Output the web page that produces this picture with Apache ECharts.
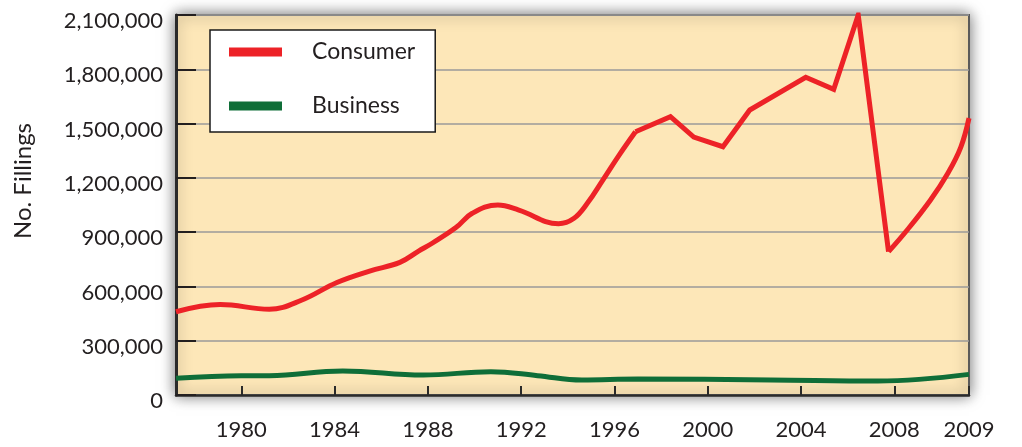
<!DOCTYPE html>
<html>
<head>
    <meta charset="utf-8">
    <title>No. Fillings</title>
    <script src="https://cdn.jsdelivr.net/npm/echarts@6.0.0/dist/echarts.min.js"></script>
    <style>
        html, body { margin: 0; padding: 0; background: #fff; }
    </style>
</head>
<body>
<div id="main" style="width: 1022px;height:447px;"></div>
<script type="text/javascript">
    // axis range as drawn (left edge .. right edge, right edge is labelled 2009)
    var xMin = 1977.2;
    var xMax = 2011.2;
    var tickPositions = [1980, 1984, 1988, 1992, 1996, 2000, 2004, 2008, 2011.2];
    var tickLabels = ['1980', '1984', '1988', '1992', '1996', '2000', '2004', '2008', '2009'];

    // consumer filings: [year position, filings]
    var consumerEarly = [
        [1977.2, 460000], [1979.1, 500000], [1981.2, 474000], [1982.6, 525000],
        [1984.1, 622000], [1985.5, 685000], [1986.8, 733000], [1987.6, 795000],
        [1988.2, 840000], [1989.2, 925000], [1989.9, 1004000], [1991.0, 1050000],
        [1991.9, 1022000], [1993.6, 947000], [1994.25, 975000], [1994.85, 1062000],
        [1995.5, 1188000], [1996.2, 1326000], [1996.9, 1455000]
    ];
    var consumerMid = [
        [1996.9, 1455000], [1998.4, 1538000], [1999.4, 1425000], [2000.65, 1372000],
        [2001.8, 1575000], [2004.2, 1756000], [2005.4, 1689000], [2006.45, 2100000],
        [2007.75, 792000]
    ];
    var consumerLate = [
        [2007.75, 792000], [2008.55, 912000], [2009.55, 1078000], [2010.3, 1227000],
        [2010.85, 1370000], [2011.2, 1530000]
    ];

    // business filings
    var business = [
        [1977.2, 92000], [1980.0, 107000], [1981.2, 107000], [1984.35, 133000],
        [1987.8, 110000], [1990.7, 129000], [1992.7, 107000], [1994.6, 83000],
        [1997.0, 88000], [2002.7, 83000], [2007.3, 77000], [2011.2, 114000]
    ];

    var myChart = echarts.init(document.getElementById('main'));
    var textColor = '#231f20';
    var font = 'Lato';

    var option = {
        animation: false,
        grid: {
            left: 176,
            right: 53,
            top: 15,
            bottom: 52,
            show: true,
            backgroundColor: '#fde7b8',
            borderColor: '#5a5a5a',
            borderWidth: 2,
            shadowBlur: 14,
            shadowColor: 'rgba(0,0,0,0.55)'
        },
        legend: {
            orient: 'vertical',
            left: 210,
            top: 30,
            data: ['Consumer', 'Business'],
            icon: 'rect',
            itemWidth: 53,
            itemHeight: 9,
            itemGap: 28,
            backgroundColor: '#fff',
            borderColor: '#1a1a1a',
            borderWidth: 1.5,
            borderRadius: 0,
            padding: [9, 20, 13, 19],
            textStyle: {
                fontFamily: font,
                fontSize: 23,
                lineHeight: 26,
                color: textColor,
                padding: [0, 0, 0, 25]
            }
        },
        xAxis: {
            type: 'value',
            min: xMin,
            max: xMax,
            splitLine: { show: false },
            axisLine: { lineStyle: { color: '#2a2a2a', width: 2.5 } },
            axisTick: {
                inside: true,
                length: 9,
                customValues: tickPositions,
                lineStyle: { color: '#2a2a2a', width: 2 }
            },
            axisLabel: {
                customValues: tickPositions,
                margin: 24,
                fontFamily: font,
                fontSize: 22,
                color: textColor,
                formatter: function (v) {
                    var i = tickPositions.indexOf(v);
                    return i >= 0 ? tickLabels[i] : '';
                }
            }
        },
        yAxis: {
            type: 'value',
            min: 0,
            max: 2100000,
            interval: 300000,
            name: 'No. Fillings',
            nameLocation: 'middle',
            nameGap: 141,
            nameTextStyle: {
                fontFamily: font,
                fontSize: 24,
                color: textColor,
                padding: [0, 0, 0, 48]
            },
            axisLine: { show: true, lineStyle: { color: '#2a2a2a', width: 3 } },
            axisTick: {
                show: true,
                inside: true,
                length: 20,
                lineStyle: { color: textColor, width: 2 }
            },
            splitLine: { lineStyle: { color: '#9a9a9a', width: 1.5 } },
            axisLabel: {
                margin: 13,
                fontFamily: font,
                fontSize: 22,
                color: textColor,
                verticalAlign: 'top',
                lineHeight: 12,
                formatter: function (v) { return v.toLocaleString('en-US'); }
            }
        },
        series: [
            {
                name: 'Consumer', type: 'line', data: consumerEarly, smooth: 0.4,
                showSymbol: false, itemStyle: { color: '#ed2227' },
                lineStyle: { color: '#ed2227', width: 5 }
            },
            {
                name: 'Consumer', type: 'line', data: consumerMid,
                showSymbol: false, itemStyle: { color: '#ed2227' },
                lineStyle: { color: '#ed2227', width: 5, join: 'miter' }
            },
            {
                name: 'Consumer', type: 'line', data: consumerLate, smooth: 0.4,
                showSymbol: false, itemStyle: { color: '#ed2227' },
                lineStyle: { color: '#ed2227', width: 5 }
            },
            {
                name: 'Business', type: 'line', data: business, smooth: 0.4,
                showSymbol: false, itemStyle: { color: '#0f6e38' },
                lineStyle: { color: '#0f6e38', width: 5 }
            }
        ]
    };

    myChart.setOption(option);
</script>
</body>
</html>
